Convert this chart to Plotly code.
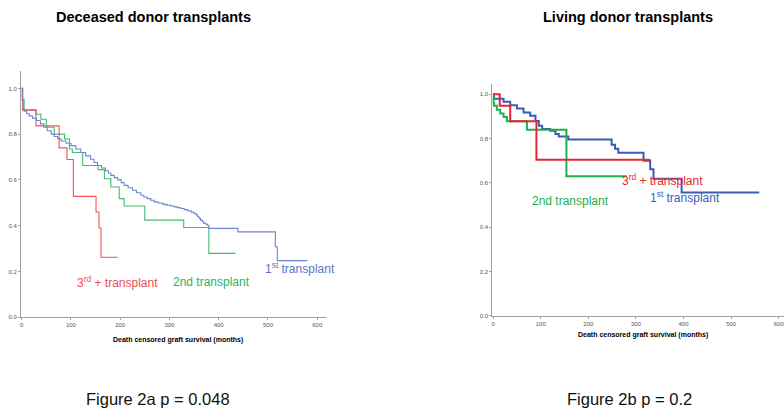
import plotly.graph_objects as go

# ---------------- Data ----------------
# Deceased donor (Figure 2a)
dec_first_t = [0, 1, 3, 5, 10, 15, 22, 30, 38, 45, 52, 60, 66, 73, 80, 90, 100, 110, 120, 130, 140, 147,
               154, 162, 170, 176, 181, 188, 195, 202, 208, 216, 225, 233, 242, 248, 255, 262,
               269, 277, 285, 290, 296, 303, 310, 316, 323, 330, 337, 344, 350, 354, 357, 360, 363, 367,
               370, 374, 377, 380, 439, 515, 519, 580]
dec_first_s = [1.0, 0.95, 0.91, 0.90, 0.89, 0.88, 0.87, 0.86, 0.845, 0.83, 0.815, 0.80, 0.79, 0.78, 0.77,
               0.76, 0.75, 0.735, 0.72, 0.705, 0.69, 0.676, 0.663, 0.652, 0.64, 0.63, 0.62, 0.61,
               0.60, 0.588, 0.576, 0.566, 0.555, 0.544, 0.533, 0.525, 0.518, 0.511, 0.504, 0.499, 0.495,
               0.492, 0.489, 0.486, 0.482, 0.479, 0.475, 0.470, 0.465, 0.459, 0.453, 0.447, 0.44, 0.432,
               0.424, 0.417, 0.41, 0.406, 0.402, 0.388, 0.373, 0.308, 0.247, 0.247]
dec_second_t = [0, 2, 5, 29, 39, 50, 66, 87, 97, 103, 124, 151, 155, 168, 181, 198, 208, 250, 329, 380, 434]
dec_second_s = [1.0, 0.95, 0.906, 0.887, 0.865, 0.83, 0.80, 0.779, 0.735, 0.72, 0.663, 0.663, 0.645,
                0.605, 0.569, 0.518, 0.486, 0.424, 0.392, 0.279, 0.279]
dec_third_t = [0, 2, 29, 76, 92, 105, 151, 157, 161, 195]
dec_third_s = [1.0, 0.905, 0.836, 0.74, 0.689, 0.528, 0.46, 0.39, 0.262, 0.262]

# Living donor (Figure 2b)
liv_first_t = [0, 2, 22, 36, 50, 64, 78, 89, 96, 103, 120, 131, 138, 158, 249, 256, 263, 316, 330, 337, 396, 559]
liv_first_s = [1.0, 0.98, 0.966, 0.951, 0.936, 0.918, 0.903, 0.88, 0.858, 0.843, 0.836, 0.821, 0.81, 0.796,
               0.772, 0.754, 0.736, 0.70, 0.661, 0.619, 0.557, 0.557]
liv_second_t = [0, 1, 2, 8, 15, 22, 29, 71, 154, 281]
liv_second_s = [1.0, 0.96, 0.948, 0.93, 0.913, 0.898, 0.878, 0.84, 0.63, 0.63]
liv_third_t = [0, 14, 36, 91, 330]
liv_third_s = [1.0, 0.948, 0.878, 0.704, 0.704]

y_ticks = [0.0, 0.2, 0.4, 0.6, 0.8, 1.0]
x_ticks = [0, 100, 200, 300, 400, 500, 600]

# ---------------- Figure ----------------
W, H = 784, 411
fig = go.Figure()

left_cols = {"first": "#6d87d0", "second": "#3fbb73", "third": "#ef5358"}
right_cols = {"first": "#3b5cb6", "second": "#1fae4e", "third": "#e5262c"}

for t, s, c in [(dec_second_t, dec_second_s, left_cols["second"]),
                (dec_third_t, dec_third_s, left_cols["third"]),
                (dec_first_t, dec_first_s, left_cols["first"])]:
    fig.add_trace(go.Scatter(x=t, y=s, mode="lines", line=dict(color=c, width=1.1, shape="hv"),
                             xaxis="x", yaxis="y", showlegend=False, hoverinfo="skip"))

for t, s, c in [(liv_first_t, liv_first_s, right_cols["first"]),
                (liv_second_t, liv_second_s, right_cols["second"]),
                (liv_third_t, liv_third_s, right_cols["third"])]:
    fig.add_trace(go.Scatter(x=t, y=s, mode="lines", line=dict(color=c, width=2, shape="hv"),
                             xaxis="x2", yaxis="y2", showlegend=False, hoverinfo="skip"))

def px_x(p):
    return p / W

def px_y(p):
    return 1 - p / H

axis_common = dict(showgrid=False, zeroline=False, showline=True, linecolor="#a0a0a0", linewidth=1,
                   ticks="outside", ticklen=2, tickcolor="#a0a0a0", ticklabeloverflow="allow",
                   tickfont=dict(family="Arial, Liberation Sans", size=6, color="#555555"))

fig.update_layout(
    width=W, height=H, margin=dict(l=0, r=0, t=0, b=0),
    paper_bgcolor="white", plot_bgcolor="white",
    xaxis=dict(domain=[px_x(20), px_x(325)], range=[-1.4, 617], tickvals=x_ticks, anchor="y", **axis_common),
    yaxis=dict(domain=[px_y(319.5), px_y(72)], range=[0, 1.074], tickvals=y_ticks, tickformat=".1f",
               anchor="x", **axis_common),
    xaxis2=dict(domain=[px_x(492), 1.0], range=[-1.5, 611], tickvals=x_ticks, anchor="y2", **axis_common),
    yaxis2=dict(domain=[px_y(318), px_y(85)], range=[0, 1.045], tickvals=y_ticks, tickformat=".1f",
                anchor="x2", **axis_common),
)

ann = []
def add_text(x, y, text, size, color="#000000", bold=False, family="Arial, Liberation Sans"):
    ann.append(dict(x=px_x(x), y=px_y(y), xref="paper", yref="paper", xanchor="center", yanchor="middle",
                    text=f"<b>{text}</b>" if bold else text, showarrow=False,
                    font=dict(family=family, size=size, color=color)))

# Titles
add_text(153, 17, "Deceased donor transplants", 14.5, bold=True)
add_text(628, 17, "Living donor transplants", 14.5, bold=True)
# Axis titles
add_text(177, 342, "Death censored graft survival (months)", 7, bold=True)
add_text(643, 337, "Death censored graft survival (months)", 7, bold=True)
# Curve labels left
add_text(299, 270, "1<sup>st</sup> transplant", 12, color="#5a76c8")
add_text(117, 284, "3<sup>rd</sup> + transplant", 12, color="#ee4b52")
add_text(211, 284, "2nd transplant", 12, color="#28b463")
# Curve labels right
add_text(662, 181, "3<sup>rd</sup> + transplant", 12, color="#e5262c")
add_text(685, 198, "1<sup>st</sup> transplant", 12, color="#3b5cb6")
add_text(570, 202, "2nd transplant", 12, color="#1fae4e")
# Captions
cap_font = "Liberation Sans Narrow, Arial Narrow, Arial, Liberation Sans"
add_text(157, 402, "Figure 2a p = 0.048", 16.5, color="#111111", family=cap_font)
add_text(629, 402, "Figure 2b p = 0.2", 16.5, color="#111111", family=cap_font)

fig.update_layout(annotations=ann)
fig.write_html("out.html")
